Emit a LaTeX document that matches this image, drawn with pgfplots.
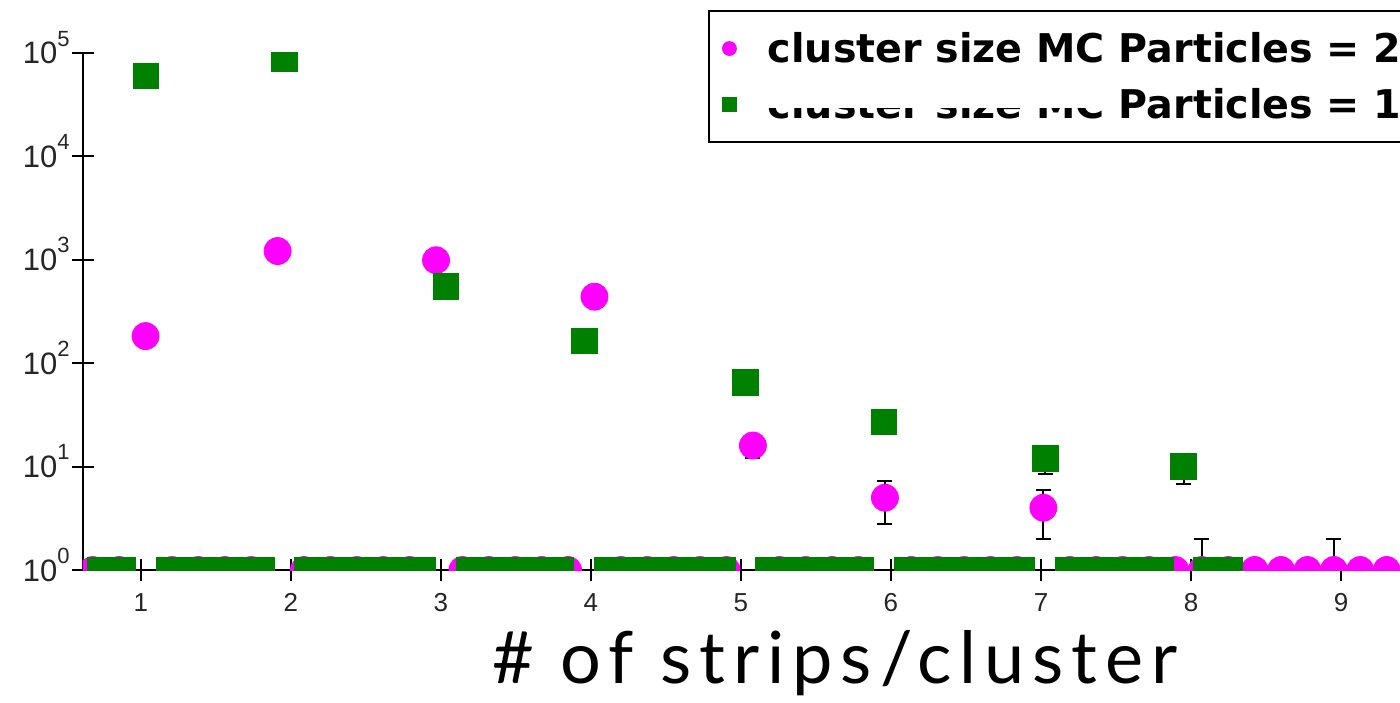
\documentclass[border=0pt]{standalone}
\usepackage{fontspec}
\setmainfont{Liberation Sans}
\newfontfamily\legfont{DejaVu Sans}
\newfontfamily\labfont{Lato}[LetterSpace=11]
\usepackage{pgfplots}
\pgfplotsset{compat=1.18}
\usepackage{pgfplotstable}
\definecolor{mag}{RGB}{255,0,255}
\definecolor{grn}{RGB}{0,128,0}
\newcommand\tlab[1]{10\raisebox{9pt}{\fontsize{11}{11}\selectfont #1}}

\pgfplotstableread{
x y
0.680 1
0.856 1
1.032 183
1.208 1
1.384 1
1.560 1
1.736 1
1.912 1215
2.088 1
2.264 1
2.440 1
2.616 1
2.792 1
2.968 990
3.144 1
3.320 1
3.496 1
3.672 1
3.848 1
4.024 440
4.200 1
4.376 1
4.552 1
4.728 1
4.904 1
5.080 16
5.256 1
5.432 1
5.608 1
5.784 1
5.960 5
6.136 1
6.312 1
6.488 1
6.664 1
6.840 1
7.016 4
7.192 1
7.368 1
7.544 1
7.720 1
7.896 1
8.072 1
8.248 1
8.424 1
8.600 1
8.776 1
8.952 1
9.128 1
9.304 1
}\magtab

\pgfplotstableread{
x y e
5.080 16 4
5.960 5 2.24
7.016 4 2
}\magerr

\pgfplotstableread{
x y e
8.072 1 1
8.952 1 1
}\magerrplus

\pgfplotstableread{
x y
0.574 1
0.728 1
0.881 1
1.035 60000
1.189 1
1.342 1
1.496 1
1.650 1
1.803 1
1.957 88000
2.111 1
2.264 1
2.418 1
2.572 1
2.725 1
2.879 1
3.033 556
3.186 1
3.340 1
3.494 1
3.647 1
3.801 1
3.955 164
4.108 1
4.262 1
4.416 1
4.569 1
4.723 1
4.877 1
5.030 65
5.184 1
5.338 1
5.491 1
5.645 1
5.799 1
5.952 27
6.106 1
6.260 1
6.413 1
6.567 1
6.721 1
6.874 1
7.028 12
7.182 1
7.335 1
7.489 1
7.643 1
7.796 1
7.950 10
8.104 1
8.257 1
}\grntab

\pgfplotstableread{
x y e
7.028 12 3.46
7.950 10 3.16
}\grnerr

\begin{document}
\begin{tikzpicture}[trim left=-41.5pt, trim right=658.5pt]
\path (-41.5pt,-66pt) rectangle (658.5pt,285pt);
\begin{axis}[
  at={(0,0)}, anchor=south west,
  scale only axis, width=658.5pt, height=258.5pt,
  ymode=log, ymin=1, ymax=1e5,
  xmin=0.615, xmax=9.393,
  axis x line=bottom, axis y line=left,
  axis line style={-, line width=1pt, black},
  tick align=center, major tick length=11pt,
  tick style={black, line width=1pt},
  yminorticks=false, xminorticks=false,
  xtick={1,2,3,4,5,6,7,8,9},
  ytick={1,10,100,1000,10000,100000},
  yticklabels={\tlab{0},\tlab{1},\tlab{2},\tlab{3},\tlab{4},\tlab{5}},
  /pgf/number format/assume math mode=true,
  yticklabel style={font=\fontsize{15.5}{15.5}\selectfont, text=black!85, anchor=base east, inner sep=0pt, yshift=-5.5pt, xshift=-1pt},
  xticklabel style={font=\fontsize{13}{13}\selectfont, text=black!85, inner sep=0pt, yshift=-6pt},
  xlabel={\labfont\fontsize{36}{36}\selectfont \# of strips/cluster},
  xlabel style={at={(axis description cs:0.571,0)}, anchor=base, yshift=-56.5pt, inner sep=0pt},
  clip marker paths=true,
  legend style={at={(axis description cs:0.4746,1.0832)}, anchor=north west,
    draw=black, line width=1pt, fill=white,
    font=\legfont\bfseries\fontsize{19.8}{23}\selectfont,
    inner xsep=7pt, inner ysep=8.5pt, row sep=7.5pt, cells={anchor=west},
    /tikz/every odd column/.append style={column sep=14pt}},
  legend image code/.code={\draw[#1, mark size=3.2pt] plot coordinates {(0pt,0pt)};},
  error bars/error mark options={rotate=90, mark size=3.75pt, line width=1pt, black},
  error bars/error bar style={line width=1pt, black},
]
\addplot[black, only marks, mark=none, forget plot,
  error bars/.cd, y dir=both, y explicit]
  table[x=x, y=y, y error=e]{\magerr};
\addplot[black, only marks, mark=none, forget plot,
  error bars/.cd, y dir=plus, y explicit]
  table[x=x, y=y, y error=e]{\magerrplus};
\addplot[only marks, mark=*, mark size=6.75pt, color=mag, mark options={draw=mag, fill=mag}]
  table[x=x, y=y]{\magtab};
\addlegendentry{cluster size MC Particles = 2}
\addplot[black, only marks, mark=none, forget plot,
  error bars/.cd, y dir=both, y explicit]
  table[x=x, y=y, y error=e]{\grnerr};
\addplot[only marks, mark=square*, mark size=6.4pt, color=grn, mark options={draw=grn, fill=grn}]
  table[x=x, y=y]{\grntab};
\addlegendentry{cluster size MC Particles = 1}
\end{axis}
\fill[white] (341pt,231pt) rectangle (512.5pt,252pt);
\end{tikzpicture}
\end{document}
